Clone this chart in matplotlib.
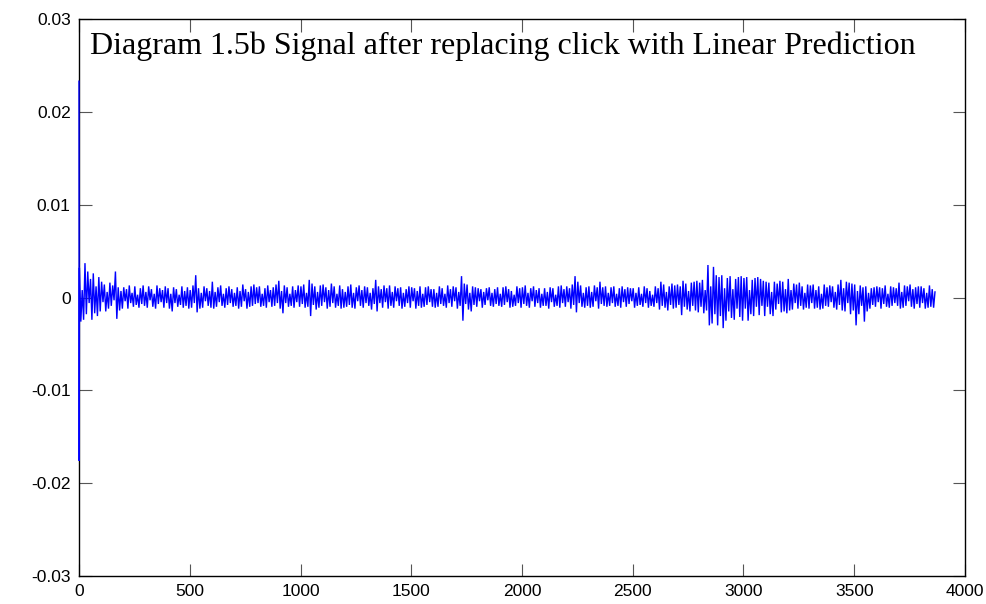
import numpy as np
import matplotlib
matplotlib.use("Agg")
import matplotlib.pyplot as plt

# Repaired audio signal: the two click samples at the start, then the
# alternating peak values of the waveform (units of 1e-4), 16 peaks per
# 100-sample block.
click_samples = [0.0233, -0.0176]
peak_blocks = [
    [32, -26, 8, -24, 37, -18, 28, -6, 20, -24, 26, -17, 12, -20, 22, -15],
    [17, -5, 14, -15, 6, -12, 16, -9, 13, -3, 28, -23, 11, -14, 7, -12],
    [11, -4, 9, -12, 13, -6, 5, -10, 12, -8, 3, -11, 10, -7, 13, -9],
    [6, -11, 12, -3, 9, -10, 4, -12, 13, -7, 10, -5, 8, -11, 12, -6],
    [10, -12, 4, -15, 11, -6, 9, -10, 3, -8, 12, -11, 7, -9, 11, -12],
    [8, -11, 13, -6, 24, -16, 10, -12, 5, -11, 12, -4, 10, -9, 7, -11],
    [17, -12, 6, -10, 11, -5, 13, -9, 4, -11, 10, -8, 12, -6, 9, -10],
    [5, -9, 11, -12, 7, -10, 14, -4, 9, -12, 6, -10, 12, -9, 14, -7],
    [11, -6, 12, -10, 4, -9, 10, -11, 13, -5, 8, -10, 11, -9, 14, -6],
    [18, -12, 7, -17, 13, -6, 11, -10, 4, -9, 12, -11, 8, -5, 13, -10],
    [12, -7, 14, -11, 5, -10, 19, -20, 15, -8, 12, -13, 6, -11, 13, -9],
    [14, -5, 11, -12, 8, -10, 15, -6, 12, -11, 4, -9, 13, -12, 9, -11],
    [6, -10, 12, -8, 14, -11, 5, -12, 11, -4, 13, -9, 8, -11, 12, -6],
    [11, -9, 5, -13, 10, -7, 19, -15, 12, -6, 9, -11, 13, -5, 10, -12],
    [13, -9, 6, -11, 12, -4, 10, -9, 11, -12, 5, -10, 9, -6, 12, -11],
    [11, -4, 10, -12, 7, -9, 12, -11, 4, -10, 11, -8, 12, -5, 9, -10],
    [9, -11, 5, -10, 12, -7, 10, -9, 4, -11, 13, -6, 9, -10, 12, -4],
    [11, -12, 6, -9, 23, -25, 15, -7, 14, -13, 5, -15, 12, -8, 11, -10],
    [10, -4, 9, -11, 6, -8, 10, -3, 11, -9, 5, -10, 9, -7, 11, -9],
    [4, -10, 11, -8, 12, -5, 9, -11, 7, -10, 3, -9, 12, -6, 10, -11],
    [11, -7, 13, -9, 5, -11, 10, -4, 12, -10, 8, -6, 10, -11, 4, -9],
    [10, -9, 6, -12, 11, -5, 10, -10, 3, -9, 12, -11, 13, -6, 9, -10],
    [12, -5, 10, -12, 14, -8, 23, -16, 17, -6, 13, -10, 5, -11, 11, -9],
    [12, -11, 6, -10, 13, -4, 11, -12, 17, -7, 11, -9, 12, -10, 5, -9],
    [11, -6, 12, -10, 4, -9, 10, -11, 12, -5, 9, -10, 11, -7, 10, -4],
    [10, -11, 5, -9, 11, -8, 4, -10, 12, -6, 10, -11, 7, -9, 3, -10],
    [12, -6, 10, -13, 17, -9, 14, -11, 6, -14, 12, -8, 15, -12, 13, -11],
    [14, -8, 12, -19, 18, -10, 15, -13, 7, -15, 16, -9, 17, -14, 18, -16],
    [16, -10, 19, -17, 8, -14, 35, -30, 12, -28, 33, -18, 24, -30, 22, -20],
    [24, -33, 10, -25, 21, -15, 23, -22, 9, -24, 20, -12, 22, -21, 23, -25],
    [21, -12, 22, -25, 8, -18, 19, -20, 21, -10, 22, -19, 20, -9, 18, -20],
    [17, -10, 16, -18, 6, -20, 17, -13, 15, -7, 18, -16, 17, -15, 9, -17],
    [20, -14, 8, -13, 15, -6, 14, -12, 16, -9, 12, -13, 5, -11, 14, -12],
    [13, -6, 14, -12, 8, -11, 12, -13, 4, -12, 14, -9, 11, -10, 13, -5],
    [12, -11, 6, -13, 14, -8, 19, -14, 10, -15, 17, -6, 16, -18, 15, -14],
    [14, -30, 7, -18, 13, -9, 11, -26, 12, -15, 5, -12, 10, -8, 11, -10],
    [12, -5, 11, -12, 10, -7, 13, -10, 4, -11, 12, -9, 11, -6, 10, -9],
    [16, -12, 6, -11, 13, -9, 12, -4, 14, -10, 9, -12, 11, -7, 12, -11],
    [12, -6, 10, -12, 5, -11, 13, -10, 9, -11, 6],
]
block_len = 100
peaks_per_block = 16

title = "Diagram 1.5b Signal after replacing click with Linear Prediction"
x_ticks = [0, 500, 1000, 1500, 2000, 2500, 3000, 3500, 4000]
y_ticks = [-0.03, -0.02, -0.01, 0, 0.01, 0.02, 0.03]
y_tick_labels = ["-0.03", "-0.02", "-0.01", "0", "0.01", "0.02", "0.03"]

# Assemble sample positions and amplitudes
xs = [0, 1]
ys = list(click_samples)
step = block_len / peaks_per_block
for b, block in enumerate(peak_blocks):
    for k, v in enumerate(block):
        xs.append(2 + b * block_len + k * step)
        ys.append(v * 1e-4)
xs = np.array(xs)
ys = np.array(ys)

fig = plt.figure(figsize=(9.87, 6.04), dpi=100)
ax = fig.add_axes([79 / 987, 1 - 576 / 604, (965 - 79) / 987, (576 - 19) / 604])

ax.plot(xs, ys, color="#0000ff", lw=1.0, solid_joinstyle="miter",
        clip_on=False, zorder=4)

ax.set_xlim(0, 4000)
ax.set_ylim(-0.03, 0.03)
ax.set_xticks(x_ticks)
ax.set_xticklabels([str(t) for t in x_ticks])
ax.set_yticks(y_ticks)
ax.set_yticklabels(y_tick_labels)

for lab in ax.get_xticklabels() + ax.get_yticklabels():
    lab.set_fontfamily("Liberation Sans")
    lab.set_fontsize(12.5)

ax.tick_params(direction="in", length=9, width=0.8, color="#555555",
               top=True, right=True, pad=6)
for side in ax.spines.values():
    side.set_linewidth(1.0)
    side.set_color("black")
    side.set_zorder(3)

ax.text(0.012, 0.977, title, transform=ax.transAxes, ha="left", va="top",
        family="Liberation Serif", fontsize=23, color="black")

fig.savefig("out.png", dpi=100)
